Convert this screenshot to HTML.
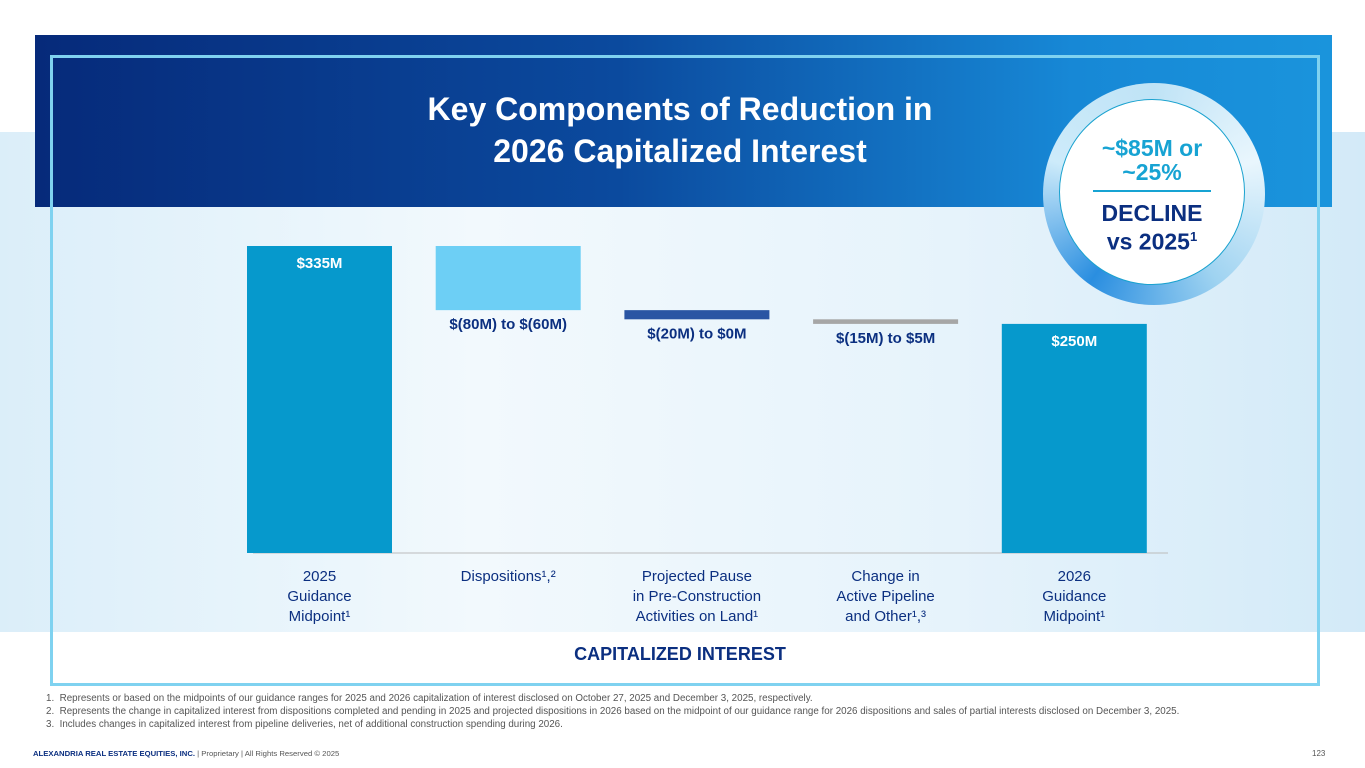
<!DOCTYPE html>
<html><head><meta charset="utf-8"><style>
body{margin:0;width:1365px;height:768px;overflow:hidden;background:#fff;font-family:"Liberation Sans",sans-serif;position:relative}
.abs{position:absolute}
</style></head><body>
<div class="abs" style="left:0;top:132px;width:1365px;height:500px;background:linear-gradient(90deg,#dbeef9 0%,#f2f9fd 35%,#e6f3fb 70%,#d3eaf8 100%)"></div>
<div class="abs" style="left:35px;top:35px;width:1297px;height:172px;background:linear-gradient(90deg,#062a7a 0%,#0b4a9e 45%,#1788d6 80%,#1a94dc 100%)"></div>
<div class="abs" style="left:50px;top:55px;width:1264px;height:625px;border:3px solid #7fd2f0"></div>
<div class="abs" style="left:330px;top:88px;width:700px;text-align:center;color:#fff;font-weight:bold;font-size:32px;line-height:42px">Key Components of Reduction in<br>2026 Capitalized Interest</div>
<div class="abs" style="left:1043px;top:83px;width:222px;height:222px;border-radius:50%;background:conic-gradient(#bfe3f6,#e9f6fd,#9fd3f1,#2a8ee0,#cdebfa,#bfe3f6)"></div>
<div class="abs" style="left:1059px;top:99px;width:186px;height:186px;border-radius:50%;background:#fff;border:1px solid #1aa2cf;box-sizing:border-box;text-align:center">
<div style="margin-top:36px;color:#17a3d3;font-weight:bold;font-size:23px;line-height:24px">~$85M or<br>~25%</div>
<div style="margin:6px auto 0;width:118px;height:2px;background:#17a3d3"></div>
<div style="margin-top:9px;color:#0b2f80;font-weight:bold;font-size:23px;line-height:24px">DECLINE<br>vs 2025<sup style="font-size:13px">1</sup></div></div>
<svg class="abs" style="left:0;top:0" width="1365" height="768" id="chart"></svg>
<div class="abs" style="left:500px;top:644px;width:360px;text-align:center;color:#0b2f80;font-weight:bold;font-size:18px">CAPITALIZED INTEREST</div>
<div class="abs" style="left:46px;top:692px;font-size:9.8px;color:#555;line-height:13px;white-space:nowrap">
1.&nbsp;&nbsp;Represents or based on the midpoints of our guidance ranges for 2025 and 2026 capitalization of interest disclosed on October 27, 2025 and December 3, 2025, respectively.<br>
2.&nbsp;&nbsp;Represents the change in capitalized interest from dispositions completed and pending in 2025 and projected dispositions in 2026 based on the midpoint of our guidance range for 2026 dispositions and sales of partial interests disclosed on December 3, 2025.<br>
3.&nbsp;&nbsp;Includes changes in capitalized interest from pipeline deliveries, net of additional construction spending during 2026.</div>
<div class="abs" style="left:33px;top:749px;font-size:7.7px;color:#555;white-space:nowrap"><b style="color:#0b2f80">ALEXANDRIA REAL ESTATE EQUITIES, INC.</b> | Proprietary | All Rights Reserved © 2025</div>
<div class="abs" style="left:1312px;top:749px;font-size:8px;color:#555">123</div>
<script>
const categories=[["2025","Guidance","Midpoint¹"],["Dispositions¹,²"],["Projected Pause","in Pre-Construction","Activities on Land¹"],["Change in","Active Pipeline","and Other¹,³"],["2026","Guidance","Midpoint¹"]];
const startValue=335;
const deltas=[-70,-10,-5];
const endValue=250;
const valueLabels=["$335M","$(80M) to $(60M)","$(20M) to $0M","$(15M) to $5M","$250M"];
const colors=["#0699cc","#6dcff5","#2a55a3","#a6a6a6","#0699cc"];
const svg=document.getElementById('chart');const NS='http://www.w3.org/2000/svg';
const y=v=>553-v*(307/335);
const x=i=>247+i*188.7;const bw=145;
function el(t,a){const e=document.createElementNS(NS,t);for(const k in a)e.setAttribute(k,a[k]);svg.appendChild(e);return e;}
const bars=[];let run=startValue;bars.push([0,startValue]);
deltas.forEach(d=>{bars.push([run,run+d]);run+=d;});bars.push([0,endValue]);
const ax=el('line',{x1:253,x2:1168,y1:553,y2:553,stroke:'#bbb','stroke-width':1});


bars.forEach((b,i)=>{const top=y(Math.max(b[0],b[1])),bot=y(Math.min(b[0],b[1]));
const r=el('rect',{x:x(i),y:top,width:bw,height:Math.max(bot-top,4),fill:colors[i]});


const inside=(i==0||i==4);
const t=el('text',{x:x(i)+bw/2,y:inside?top+22:bot+19,'text-anchor':'middle','font-size':15,'font-weight':'bold',fill:inside?'#fff':'#0b2f80','font-family':'Liberation Sans'});
t.textContent=valueLabels[i];


categories[i].forEach((ln,j)=>{const c=el('text',{x:x(i)+bw/2,y:581+j*20,'text-anchor':'middle','font-size':15,fill:'#0b2f80','font-family':'Liberation Sans'});c.textContent=ln;

});
});
</script>
</body></html>
